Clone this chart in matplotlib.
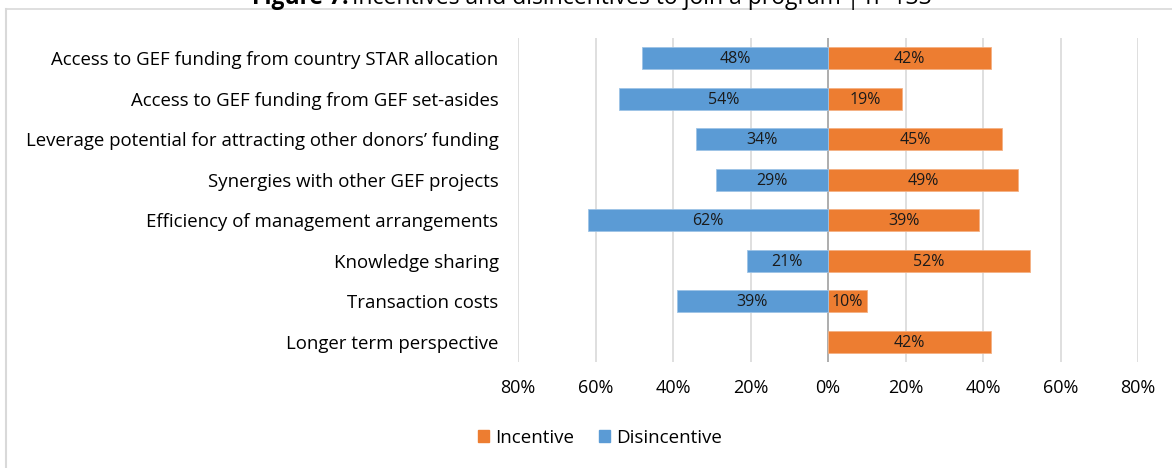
import matplotlib.pyplot as plt
from matplotlib.patches import Rectangle
from matplotlib.lines import Line2D

plt.rcParams['font.family'] = ['Open Sans', 'DejaVu Sans']

categories = [
    "Access to GEF funding from country STAR allocation",
    "Access to GEF funding from GEF set-asides",
    "Leverage potential for attracting other donors\u2019 funding",
    "Synergies with other GEF projects",
    "Efficiency of management arrangements",
    "Knowledge sharing",
    "Transaction costs",
    "Longer term perspective",
]
incentive = [42, 19, 45, 49, 39, 52, 10, 42]
disincentive = [48, 54, 34, 29, 62, 21, 39, 0]
xticks = [-80, -60, -40, -20, 0, 20, 40, 60, 80]
xtick_labels = ["80%", "60%", "40%", "20%", "0%", "20%", "40%", "60%", "80%"]

ORANGE = "#ED7D31"
BLUE = "#5B9BD5"

fig = plt.figure(figsize=(11.72, 4.68), dpi=100)
W, H = 1172, 468

# outer chart frame (top and left visible)
fig.add_artist(Line2D([6 / W, 1.0], [1 - 9 / H, 1 - 9 / H], color="#D9D9D9", lw=1.2, transform=fig.transFigure))
fig.add_artist(Line2D([6 / W, 6 / W], [0, 1 - 9 / H], color="#D9D9D9", lw=1.5, transform=fig.transFigure))

# title, partially cut off at top as in the reference
t1 = fig.text(252 / W, 1 - 4 / H, "Figure 7:", fontsize=16.5, fontweight="bold", va="baseline", ha="left")
fig.canvas.draw()
bb = t1.get_window_extent()
fig.text(bb.x1 / W + 4 / W, 1 - 4 / H, "Incentives and disincentives to join a program | n=133",
         fontsize=16.5, va="baseline", ha="left")

ax = fig.add_axes([518 / W, 1 - 362 / H, 620 / W, 324 / H])
y = list(range(len(categories)))
bh = 0.55
ax.barh(y, incentive, height=bh, color=ORANGE, edgecolor="#F4B183", linewidth=0.6, zorder=3)
yd = [i for i in y if disincentive[i] > 0]
ax.barh(yd, [-disincentive[i] for i in yd], height=bh, color=BLUE, edgecolor="#9DC3E6", linewidth=0.6, zorder=3)

for i in y:
    ax.text(incentive[i] / 2, i + 0.03, f"{incentive[i]}%", ha="center", va="center", fontsize=11.5, color="#1a1a1a", zorder=4)
    if disincentive[i] > 0:
        ax.text(-disincentive[i] / 2, i + 0.03, f"{disincentive[i]}%", ha="center", va="center", fontsize=11.5, color="#1a1a1a", zorder=4)

ax.set_xlim(-80, 80)
ax.set_ylim(len(categories) - 0.5, -0.5)
ax.set_xticks(xticks)
ax.set_xticklabels(xtick_labels, fontsize=13)
ax.set_yticks(y)
ax.set_yticklabels(categories, fontsize=13.4)
ax.tick_params(axis="x", length=0, pad=12)
ax.tick_params(axis="y", length=0, pad=14)
ax.xaxis.grid(True, color="#D9D9D9", lw=1.2, zorder=0)
ax.axvline(0, color="#A6A6A6", lw=1.2, zorder=2)
for s in ax.spines.values():
    s.set_visible(False)

handles = [Rectangle((0, 0), 1, 1, color=ORANGE), Rectangle((0, 0), 1, 1, color=BLUE)]
fig.legend(handles, ["Incentive", "Disincentive"], loc="center", bbox_to_anchor=(600 / W, 1 - 438 / H),
           ncol=2, frameon=False, fontsize=13.5, handlelength=0.6, handleheight=0.6, handletextpad=0.35,
           columnspacing=1.3)

fig.savefig("out.png", dpi=100)
